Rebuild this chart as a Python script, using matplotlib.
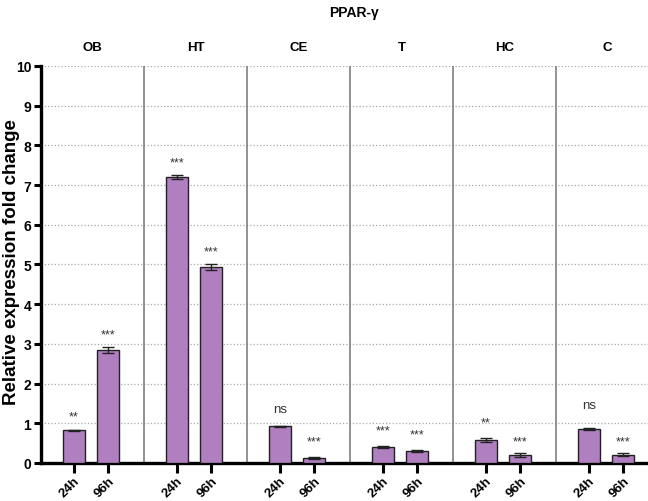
import numpy as np
import matplotlib.pyplot as plt
import matplotlib.transforms as mtransforms

plt.rcParams['font.family'] = ['Liberation Sans', 'DejaVu Sans']

# data
groups = ['OB', 'HT', 'CE', 'T', 'HC', 'C']
times = ['24h', '96h']
vals_24 = [0.82, 7.20, 0.92, 0.40, 0.58, 0.86]
vals_96 = [2.85, 4.93, 0.13, 0.30, 0.20, 0.21]
err_24 = [0.02, 0.06, 0.02, 0.02, 0.04, 0.03]
err_96 = [0.07, 0.07, 0.02, 0.02, 0.04, 0.03]
sig_24 = ['**', '***', 'ns', '***', '**', 'ns']
sig_96 = ['***', '***', '***', '***', '***', '***']
sig_y24 = [1.18, 7.58, 1.36, 0.83, 1.03, 1.46]
sig_y96 = [3.25, 5.34, 0.55, 0.73, 0.55, 0.55]

bar_col = '#B07FC0'
gw = 3.0  # group width in x units

fig = plt.figure(figsize=(6.48, 5.02), dpi=100)
ax = fig.add_axes([0.0633, 0.0757, 0.954, 0.791])

x24 = np.arange(len(groups)) * gw + 0.95
x96 = np.arange(len(groups)) * gw + 1.95

ax.bar(x24, vals_24, width=0.64, color=bar_col, edgecolor='#222222', linewidth=1.0, zorder=3,
       yerr=err_24, capsize=4, error_kw=dict(elinewidth=1, capthick=1, ecolor='#222222'))
ax.bar(x96, vals_96, width=0.64, color=bar_col, edgecolor='#222222', linewidth=1.0, zorder=3,
       yerr=err_96, capsize=4, error_kw=dict(elinewidth=1, capthick=1, ecolor='#222222'))

for i in range(len(groups)):
    for xx, s, yy in [(x24[i], sig_24[i], sig_y24[i]), (x96[i], sig_96[i], sig_y96[i])]:
        fs = 9.5 if s == 'ns' else 9
        ax.text(xx, yy, s, ha='center', va='center', fontsize=fs, color='#333333')
    ax.text(i * gw + gw / 2, 10.48, groups[i], ha='center', va='center',
            fontsize=9.5, fontweight='bold', clip_on=False)

# group separators
for i in range(1, len(groups)):
    ax.axvline(i * gw, color='#808080', linewidth=1.2, zorder=2)

ax.set_xlim(0, gw * len(groups))
ax.set_ylim(0, 10)
ax.set_yticks(range(0, 11))
ax.yaxis.grid(True, linestyle=':', color='#aaaaaa', linewidth=0.9, zorder=1)
ax.set_axisbelow(True)

xt = np.sort(np.concatenate([x24, x96]))
ax.set_xticks(xt)
ax.set_xticklabels(times * len(groups), rotation=45, ha='right', rotation_mode='anchor',
                   fontsize=9.5, fontweight='bold')
shift = mtransforms.ScaledTranslation(4 / 72, 0, fig.dpi_scale_trans)
for lab in ax.get_xticklabels():
    lab.set_transform(lab.get_transform() + shift)
for lab in ax.get_yticklabels():
    lab.set_fontweight('bold')
    lab.set_fontsize(10)

ax.tick_params(axis='x', length=7, width=2.2, pad=1.5)
ax.tick_params(axis='y', length=5, width=2.2, pad=2)
ax.spines['top'].set_visible(False)
ax.spines['right'].set_visible(False)
ax.spines['left'].set_linewidth(2.4)
ax.spines['bottom'].set_linewidth(2.4)

ax.set_ylabel('Relative expression fold change', fontsize=13.5, fontweight='bold')
ax.yaxis.set_label_coords(-0.034, 0.509)
fig.text(0.546, 0.975, 'PPAR-γ', ha='center', va='center', fontsize=10, fontweight='bold')

fig.savefig('out.png', dpi=100)
